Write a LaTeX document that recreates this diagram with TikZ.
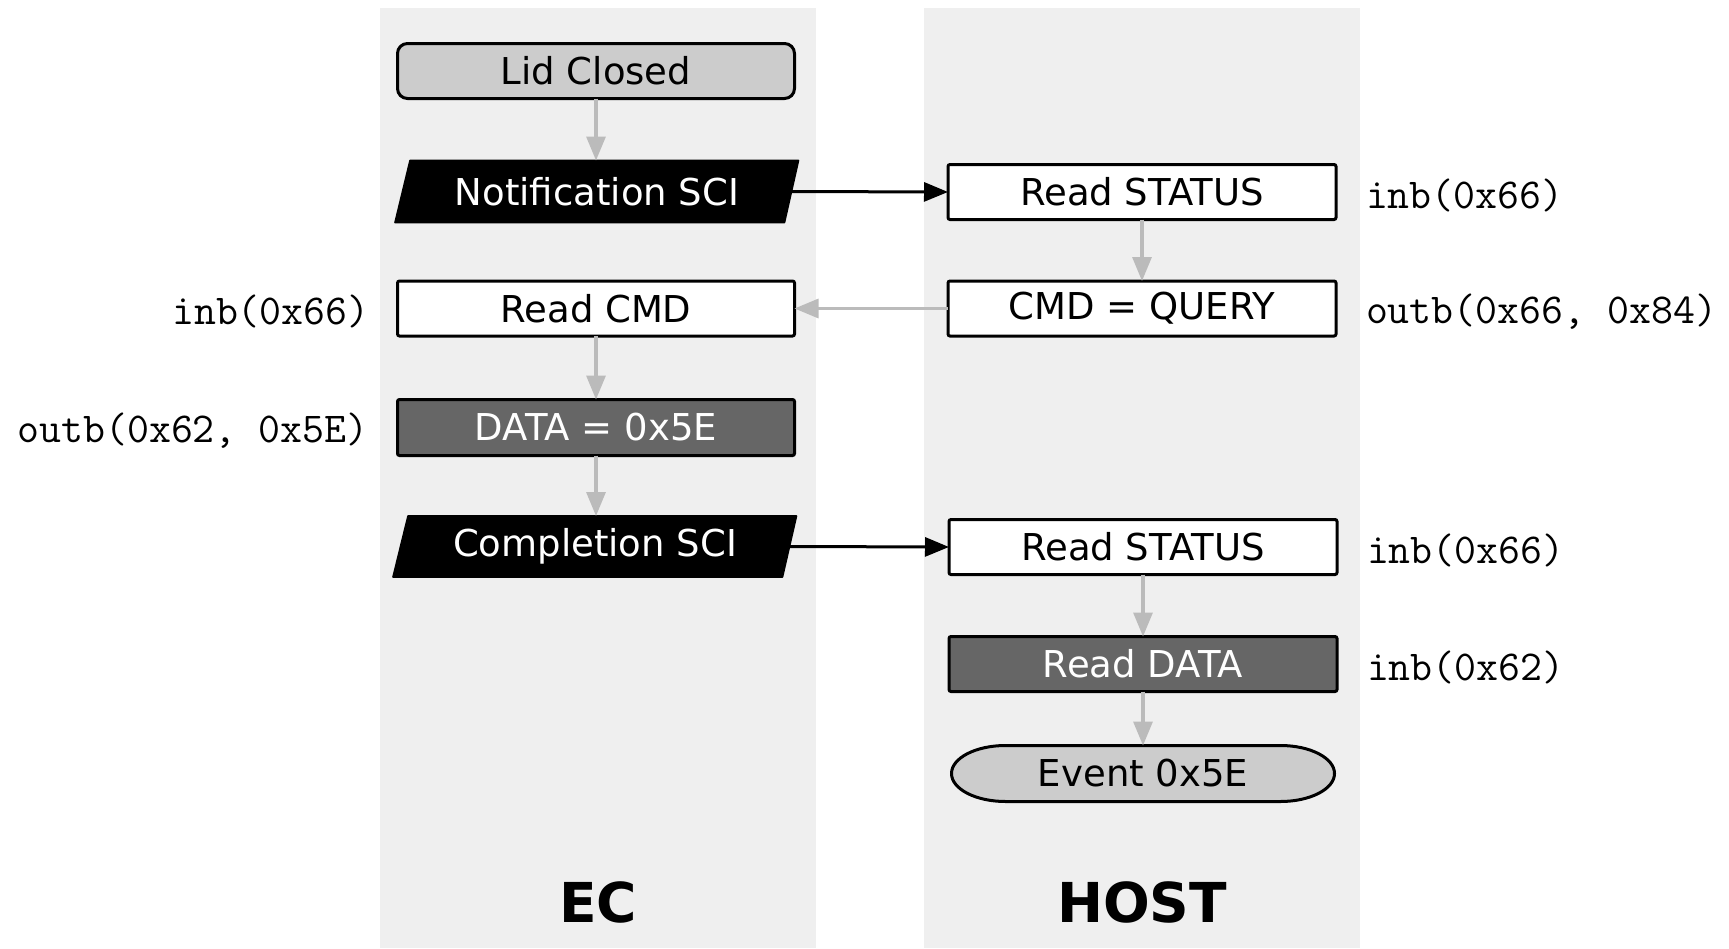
\documentclass[tikz,border=0pt]{standalone}
\usepackage{fontspec}
\setmainfont{DejaVu Sans}
\usetikzlibrary{arrows.meta,positioning}
\pgfdeclarelayer{lanes}
\pgfdeclarelayer{shapes}
\pgfsetlayers{lanes,shapes,main}

\definecolor{lanegray}{HTML}{EFEFEF}
\definecolor{flowgray}{HTML}{BBBBBB}
\definecolor{lightfill}{HTML}{CCCCCC}
\definecolor{darkfill}{HTML}{666666}

\begin{document}
\begin{tikzpicture}[x=0.5pt,y=-0.5pt,
  boxtext/.style={font=\fontsize{18.5}{22}\selectfont, inner sep=0pt, outer sep=0pt},
  stepbox/.style={boxtext, draw=black, line width=1.5pt, rounded corners=1pt,
    fill=white, minimum width=194pt, minimum height=27.5pt},
  wideebox/.style={stepbox, minimum width=198.5pt},
  darkbox/.style={fill=darkfill, text=white},
  sigbox/.style={boxtext, text=white, minimum width=194.5pt, minimum height=31pt},
  termbox/.style={boxtext, minimum width=191.5pt, minimum height=28pt},
  codelabel/.style={font=\ttfamily\fontsize{21.3}{23}\selectfont, inner sep=0pt, outer sep=0pt, yshift=-1.5pt},
  lanetitle/.style={font=\bfseries\fontsize{27.5}{30}\selectfont, inner sep=0pt},
  flow/.style={draw=flowgray, line width=1.6pt, -{Triangle[length=12pt,width=9.5pt]}},
  signal/.style={draw=black, line width=1.5pt, -{Triangle[length=12pt,width=9.5pt]}},
]
\useasboundingbox (0,0) rectangle (1729,948);

% swim lanes
\begin{pgfonlayer}{lanes}
  \fill[lanegray] (380,8) rectangle (816,948);
  \fill[lanegray] (924,8) rectangle (1360,948);
\end{pgfonlayer}

% EC column
\node[wideebox, fill=lightfill, rounded corners=5pt] (lid) at (596,71) {Lid Closed};
\node[sigbox] (notif) at (597,191.5) {Notification SCI};
\node[wideebox] (rcmd) at (596,308.5) {Read CMD};
\node[wideebox, darkbox, minimum height=28pt] (data) at (596,427.5) {DATA = 0x5E};
\node[sigbox, minimum height=30.5pt] (compl) at (595,546.5) {Completion SCI};

% HOST column
\node[stepbox] (stat1) at (1142,192) {Read STATUS};
\node[stepbox] (query) at (1142,308.5) {CMD = QUERY};
\node[stepbox] (stat2) at (1143,547) {Read STATUS};
\node[stepbox, darkbox] (rdata) at (1143,664) {Read DATA};
\node[termbox] (event) at (1143,773.5) {Event 0x5E};

% slanted signal shapes and the terminal
\begin{pgfonlayer}{shapes}
  \foreach \n in {notif,compl}{
    \filldraw[black, line width=0.8pt, line join=round]
      ([xshift=3.75pt]\n.north west) -- ([xshift=3.5pt]\n.north east)
      -- ([xshift=-3.5pt]\n.south east) -- ([xshift=-3.75pt]\n.south west) -- cycle;
  }
  \filldraw[fill=lightfill, draw=black, line width=1.5pt]
    ([xshift=27pt]event.north west) -- ([xshift=-27pt]event.north east)
    arc[start angle=90, end angle=-90, x radius=27pt, y radius=14pt]
    -- ([xshift=27pt]event.south west)
    arc[start angle=270, end angle=90, x radius=27pt, y radius=14pt] -- cycle;
\end{pgfonlayer}

% port accesses
\node[codelabel, right=15pt of stat1] (l1) {inb(0x66)};
\node[codelabel, right=15pt of query] (l2) {outb(0x66, 0x84)};
\node[codelabel, left=14pt of rcmd] (l3) {inb(0x66)};
\node[codelabel, left=14.5pt of data] (l4) {outb(0x62, 0x5E)};
\node[codelabel, right=15pt of stat2] (l5) {inb(0x66)};
\node[codelabel, right=15pt of rdata] (l6) {inb(0x62)};

% lane titles
\node[lanetitle] (ec) at (598,902) {EC};
\node[lanetitle] (host) at (1142,902) {HOST};

% flow within each column
\draw[flow] (lid.south) -- (lid.south |- notif.north);
\draw[flow] (rcmd.south) -- (rcmd.south |- data.north);
\draw[flow] (data.south) -- (data.south |- compl.north);
\draw[flow] (stat1.south) -- (stat1.south |- query.north);
\draw[flow] (stat2.south) -- (stat2.south |- rdata.north);
\draw[flow] (rdata.south) -- (rdata.south |- event.north);

% messages between EC and host
\draw[signal] (notif.east) -- (stat1.west);
\draw[signal] (compl.east) -- (stat2.west);
\draw[flow] (query.west) -- (rcmd.east);
\end{tikzpicture}
\end{document}
